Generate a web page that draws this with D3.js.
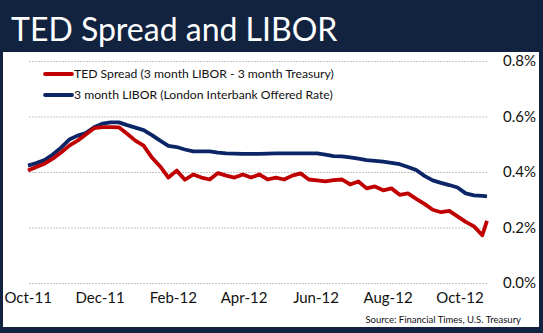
<!DOCTYPE html>
<html>
<head>
<meta charset="utf-8">
<script src="https://cdn.jsdelivr.net/npm/d3@7"></script>
<style>
  html, body { margin: 0; padding: 0; background: #12233f; }
  svg { display: block; }
</style>
</head>
<body>
<svg id="chart" width="543" height="333"></svg>
<script>
'use strict'

// weekly observations, Oct 2011 - Oct 2012 (percent)
var dates = [
  '2011-10-03', '2011-10-10', '2011-10-17', '2011-10-24', '2011-10-31',
  '2011-11-07', '2011-11-14', '2011-11-21', '2011-11-28', '2011-12-05',
  '2011-12-12', '2011-12-19', '2011-12-26', '2012-01-02', '2012-01-09',
  '2012-01-16', '2012-01-23', '2012-01-30', '2012-02-06', '2012-02-13',
  '2012-02-20', '2012-02-27', '2012-03-05', '2012-03-12', '2012-03-19',
  '2012-03-26', '2012-04-02', '2012-04-09', '2012-04-16', '2012-04-23',
  '2012-04-30', '2012-05-07', '2012-05-14', '2012-05-21', '2012-05-28',
  '2012-06-04', '2012-06-11', '2012-06-18', '2012-06-25', '2012-07-02',
  '2012-07-09', '2012-07-16', '2012-07-23', '2012-07-30', '2012-08-06',
  '2012-08-13', '2012-08-20', '2012-08-27', '2012-09-03', '2012-09-10',
  '2012-09-17', '2012-09-24', '2012-10-01', '2012-10-08', '2012-10-15',
  '2012-10-22', '2012-10-26'
]

var tedSpread = [
  0.405, 0.418, 0.430, 0.448, 0.470, 0.495, 0.513, 0.535, 0.558, 0.562,
  0.562, 0.561, 0.538, 0.513, 0.495, 0.452, 0.420, 0.380, 0.405, 0.372,
  0.391, 0.380, 0.373, 0.396, 0.387, 0.380, 0.391, 0.380, 0.391, 0.373,
  0.380, 0.373, 0.387, 0.395, 0.373, 0.370, 0.366, 0.371, 0.373, 0.355,
  0.366, 0.341, 0.348, 0.334, 0.341, 0.318, 0.323, 0.303, 0.285, 0.264,
  0.255, 0.260, 0.240, 0.220, 0.204, 0.172, 0.224
]

var libor = [
  0.423, 0.432, 0.443, 0.463, 0.488, 0.517, 0.531, 0.540, 0.561, 0.574,
  0.579, 0.579, 0.569, 0.560, 0.551, 0.533, 0.513, 0.494, 0.490, 0.481,
  0.474, 0.474, 0.474, 0.470, 0.467, 0.466, 0.465, 0.465, 0.465, 0.466,
  0.467, 0.467, 0.467, 0.467, 0.467, 0.467, 0.463, 0.457, 0.456, 0.453,
  0.448, 0.443, 0.440, 0.437, 0.433, 0.428, 0.418, 0.407, 0.386, 0.370,
  0.361, 0.353, 0.344, 0.323, 0.316, 0.314, 0.312
]

var monthTicks = ['2011-10-01', '2011-12-01', '2012-02-01', '2012-04-01',
  '2012-06-01', '2012-08-01', '2012-10-01']
var yTicks = [0, 0.2, 0.4, 0.6, 0.8]

var seriesList = [
  { name: 'TED Spread (3 month LIBOR - 3 month Treasury)', values: tedSpread, color: '#c00000' },
  { name: '3 month LIBOR (London Interbank Offered Rate)', values: libor, color: '#0b2566' }
]

var font = 'Lato, "Open Sans", sans-serif'
var svg = d3.select('#chart')
var parse = d3.timeParse('%Y-%m-%d')
var days = dates.map(parse)

var x = d3.scaleTime()
  .domain(d3.extent(days))
  .range([28, 487])

var y = d3.scaleLinear()
  .domain([0, 0.8])
  .range([283, 61])

// title bar and white chart panel
svg.append('text')
  .attr('x', 11)
  .attr('y', 41)
  .attr('fill', '#fff')
  .style('font-family', font)
  .style('font-size', '32px')
  .text('TED Spread and LIBOR')

svg.append('rect')
  .attr('x', 3)
  .attr('y', 52)
  .attr('width', 536)
  .attr('height', 275)
  .attr('fill', '#fff')

// gridlines + right hand axis labels (values are already in percent)
var yAxis = d3.axisRight(y)
  .tickValues(yTicks)
  .tickSize(-(487 - 28))
  .tickPadding(503 - 487)
  .tickFormat((d) => d.toFixed(1) + '%')

var gy = svg.append('g')
  .attr('transform', 'translate(487,0)')
  .call(yAxis)

gy.select('.domain').remove()
gy.selectAll('.tick line')
  .attr('stroke', '#c4c4c4')
  .attr('stroke-dasharray', '2,1')
gy.selectAll('.tick text')
  .attr('fill', '#111')
  .style('font-family', font)
  .style('font-size', '15px')

var xAxis = d3.axisBottom(x)
  .tickValues(monthTicks.map(parse))
  .tickSize(0)
  .tickPadding(0)
  .tickFormat(d3.timeFormat('%b-%y'))

var gx = svg.append('g')
  .attr('transform', 'translate(2,292)')
  .call(xAxis)

gx.select('.domain').remove()
gx.selectAll('.tick text')
  .attr('fill', '#111')
  .attr('dy', '0.71em')
  .style('font-family', font)
  .style('font-size', '15px')

// the two series, LIBOR underneath
var line = d3.line()
  .x((d, i) => x(days[i]))
  .y((d) => y(d))

svg.selectAll('path.series')
  .data(seriesList.slice().reverse())
  .enter().append('path')
    .attr('class', 'series')
    .attr('fill', 'none')
    .attr('stroke', (d) => d.color)
    .attr('stroke-width', 3.8)
    .attr('stroke-linejoin', 'round')
    .attr('d', (d) => line(d.values))

// legend
var legend = svg.selectAll('g.legend')
  .data(seriesList)
  .enter().append('g')
    .attr('class', 'legend')
    .attr('transform', (d, i) => 'translate(45,' + (74 + i * 21) + ')')

legend.append('line')
  .attr('x1', 0)
  .attr('x2', 27)
  .attr('stroke', (d) => d.color)
  .attr('stroke-width', 3.8)
  .attr('stroke-linecap', 'round')

legend.append('text')
  .attr('x', 29)
  .attr('dy', '0.35em')
  .attr('fill', '#111')
  .style('font-family', font)
  .style('font-size', '12.2px')
  .text((d) => d.name)

svg.append('text')
  .attr('x', 521)
  .attr('y', 323)
  .attr('text-anchor', 'end')
  .attr('fill', '#111')
  .style('font-family', font)
  .style('font-size', '9.5px')
  .text('Source:  Financial Times, U.S. Treasury')
</script>
</body>
</html>
